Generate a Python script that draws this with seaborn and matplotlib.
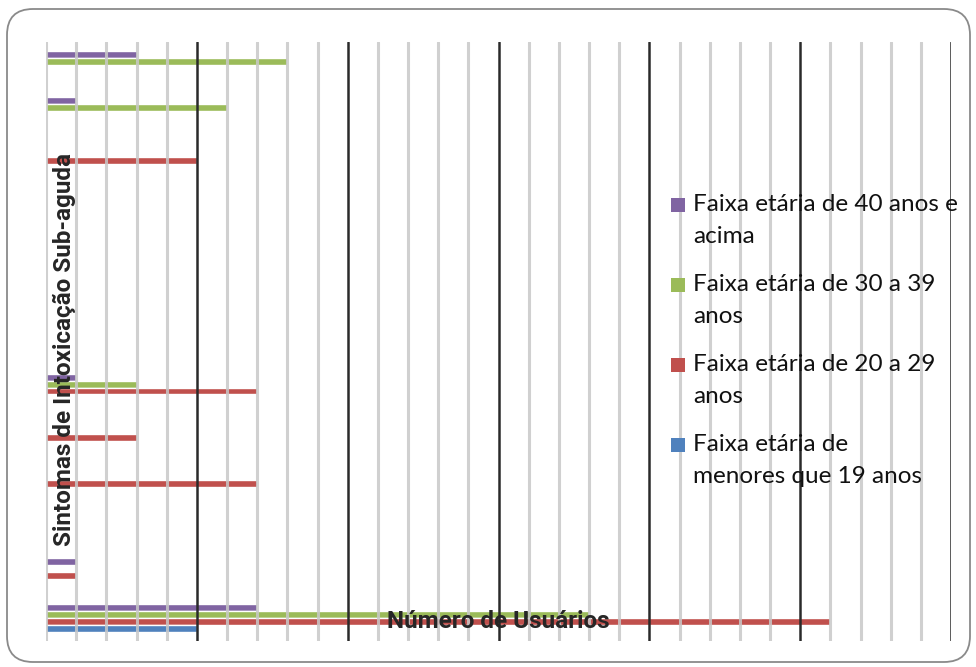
import matplotlib
matplotlib.use("Agg")
import matplotlib.pyplot as plt
from matplotlib.patches import FancyBboxPatch, Rectangle
from matplotlib.transforms import IdentityTransform
import pandas as pd
import seaborn as sns

# categorias de cima para baixo (rótulos não aparecem no gráfico original)
sintomas = [f"Sintoma {i}" for i in range(1, 14)]

faixa_40_mais = [3, 1, 0, 0, 0, 0, 0, 1, 0, 0, 0, 1, 7]
faixa_30_39 = [8, 6, 0, 0, 0, 0, 0, 3, 0, 0, 0, 0, 18]
faixa_20_29 = [0, 0, 5, 0, 0, 0, 0, 7, 3, 7, 0, 1, 26]
faixa_ate_19 = [0, 0, 0, 0, 0, 0, 0, 0, 0, 0, 0, 0, 5]

series = [
    "Faixa etária de 40 anos e acima",
    "Faixa etária de 30 a 39 anos",
    "Faixa etária de 20 a 29 anos",
    "Faixa etária de menores que 19 anos",
]
legenda = [
    "Faixa etária de 40 anos e\nacima",
    "Faixa etária de 30 a 39\nanos",
    "Faixa etária de 20 a 29\nanos",
    "Faixa etária de\nmenores que 19 anos",
]
cores = ["#8064A2", "#9BBB59", "#C0504D", "#4F81BD"]

linhas = []
for nome, valores in zip(series, [faixa_40_mais, faixa_30_39, faixa_20_29, faixa_ate_19]):
    for s, v in zip(sintomas, valores):
        linhas.append({"sintoma": s, "faixa": nome, "usuarios": v})
df = pd.DataFrame(linhas)

sns.set_style("white")
plt.rcParams["font.family"] = ["Lato", "DejaVu Sans"]

W, H = 976, 667
fig = plt.figure(figsize=(W / 100, H / 100), dpi=100)
ax = fig.add_axes([46 / W, 1 - 641 / H, 905 / W, 599 / H])

sns.barplot(data=df, x="usuarios", y="sintoma", hue="faixa", hue_order=series,
            order=sintomas, palette=dict(zip(series, cores)), orient="h",
            width=0.6, saturation=1, legend=False, ax=ax)

ax.set_xlim(0, 30)
ax.set_ylim(12.5, -0.5)
ax.set_xticks(range(5, 31, 5))
ax.set_xticks([t for t in range(0, 31) if t % 5 != 0 or t == 0], minor=True)
ax.grid(which="minor", axis="x", color="#c8c8c8", lw=2.2, alpha=0.85)
ax.grid(which="major", axis="x", color="#2a2a2a", lw=1.8)
ax.grid(which="major", axis="y", visible=False)
ax.set_axisbelow(False)
ax.tick_params(which="both", length=0, labelbottom=False, labelleft=False)
for sp in ax.spines.values():
    sp.set_visible(False)

rotulo = dict(fontsize=17.5, fontweight="bold", family=["Roboto", "DejaVu Sans"])
ax.set_xlabel("Número de Usuários", **rotulo)
ax.xaxis.set_label_coords(0.5, (641 - 621) / 599)
ax.xaxis.label.set_va("center")
ax.set_ylabel("Sintomas de Intoxicação Sub-aguda", **rotulo)
ax.yaxis.set_label_coords((64 - 46) / 905, (641 - 350) / 599)
ax.yaxis.label.set_va("center")

# legenda desenhada à mão para alinhar o quadrado com a primeira linha
for i, (txt, cor) in enumerate(zip(legenda, cores)):
    yc = 205 + 80 * i
    fig.patches.append(Rectangle((671, H - yc - 7), 14, 14, facecolor=cor,
                                 edgecolor="none", transform=IdentityTransform()))
    fig.text(693 / W, 1 - (yc - 11) / H, txt, fontsize=17.5, va="top",
             ha="left", linespacing=1.65, color="#111111")

# moldura arredondada
moldura = FancyBboxPatch((7, 5), 963, 653, boxstyle="round,pad=0,rounding_size=26",
                         facecolor="none", edgecolor="#8a8a8a", lw=1.3,
                         transform=IdentityTransform())
fig.patches.append(moldura)

fig.savefig("out.png", dpi=100)
